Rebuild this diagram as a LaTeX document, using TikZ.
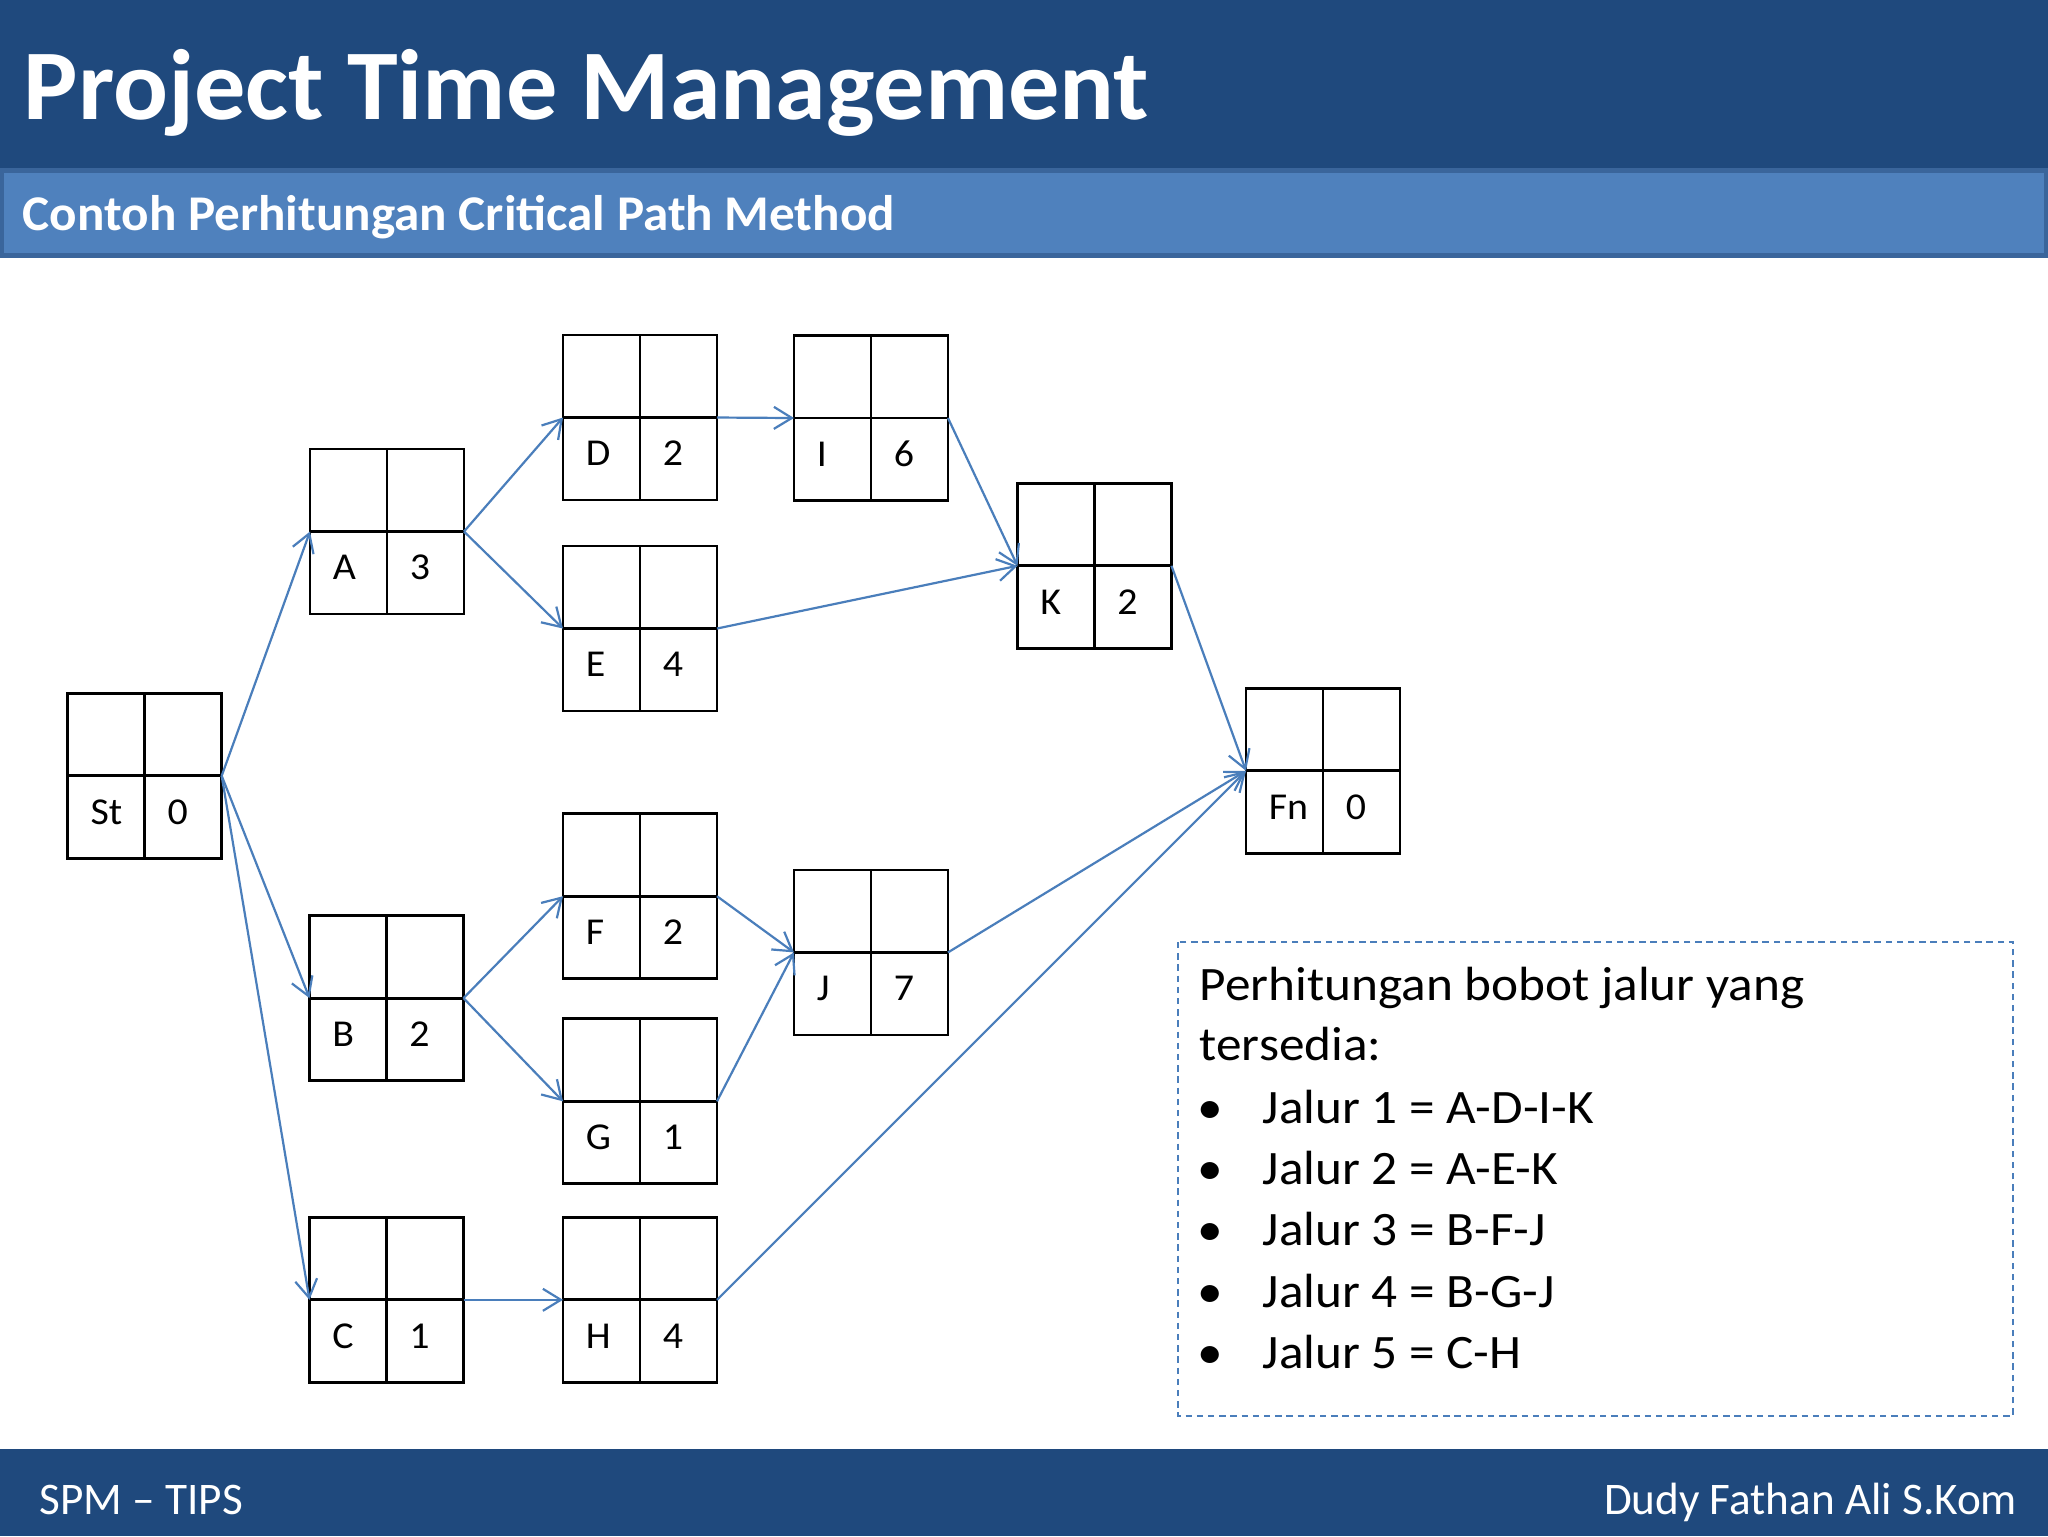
\documentclass[tikz,border=0pt]{standalone}
\usepackage{fontspec}
\setmainfont{Carlito}
\newfontfamily\titlefont{Carlito}[FakeStretch=1.023]
\newfontfamily\bodyfont{Carlito}[FakeStretch=1.068]
\newfontfamily\lblfont{Carlito}[FakeStretch=1.05]
\usetikzlibrary{arrows.meta,calc}
\definecolor{hdark}{HTML}{1F497D}
\definecolor{hlight}{HTML}{4F81BD}
\definecolor{hedge}{HTML}{3A659B}
\definecolor{arrblue}{HTML}{4A7EBB}
\tikzset{
  cpm/.style={draw=black,line width=0.7pt,minimum width=38.5pt,minimum height=41.25pt,inner sep=0pt,outer sep=0pt},
  boxline/.style={draw=black,line width=0.7pt},
  lbl/.style={font=\lblfont\fontsize{9.5}{11}\selectfont,inner sep=0pt,anchor=west,yshift=1.3pt},
  arr/.style={draw=arrblue,line width=0.55pt,-{Straight Barb[length=4.5pt,width=5.5pt]}},
  bodytxt/.style={font=\bodyfont\fontsize{12}{14}\selectfont,anchor=base west,inner sep=0pt},
  foottxt/.style={font=\fontsize{11.3}{13}\selectfont,text=white,inner sep=0pt},
}
\newcommand\cpmbox[5]{%
  \node[cpm,anchor=north west] (#1) at (#2,#3) {};
  \draw[boxline] (#1.north) -- (#1.south) (#1.west) -- (#1.east);
  \node[lbl] (#1-name) at ([xshift=5.5pt]$(#1.south west)!0.5!(#1.west)$) {#4};
  \node[lbl] (#1-dur) at ([xshift=5.5pt]$(#1.south)!0.5!(#1.center)$) {#5};
}
\begin{document}
\begin{tikzpicture}[x=0.25pt,y=-0.25pt]
\useasboundingbox (0,0) rectangle (2048,1536);
\fill[white] (0,0) rectangle (2048,1536);
% header
\fill[hdark] (0,0) rectangle (2048,168);
\fill[hedge] (0,168) rectangle (2048,258);
\fill[hlight] (4,173) rectangle (2044,253);
\node[anchor=base west,inner sep=0pt,text=white,font=\titlefont\fontsize{25}{30}\selectfont\bfseries] (title) at (23,119) {Project Time Management};
\node[anchor=base west,inner sep=0pt,text=white,font=\titlefont\fontsize{12.5}{15}\selectfont\bfseries] (subtitle) at (22,230) {Contoh Perhitungan Critical Path Method};
% footer
\fill[hdark] (0,1449) rectangle (2048,1536);
\node[foottxt,anchor=base west] (footl) at (39,1514) {SPM -- TIPS};
\node[foottxt,anchor=base east] (footr) at (2018,1514) {Dudy Fathan Ali S.Kom};
% boxes
\cpmbox{St}{67.7}{693.3}{St}{0}
\cpmbox{A}{310}{449}{A}{3}
\cpmbox{D}{563}{335}{D}{2}
\cpmbox{E}{563}{546}{E}{4}
\cpmbox{I}{794}{335.5}{I}{6}
\cpmbox{K}{1017.5}{483.3}{K}{2}
\cpmbox{Fn}{1246}{688.3}{Fn}{0}
\cpmbox{B}{309.5}{915.6}{B}{2}
\cpmbox{F}{563}{813.7}{F}{2}
\cpmbox{G}{563}{1018.8}{G}{1}
\cpmbox{J}{794}{869.9}{J}{7}
\cpmbox{C}{309.5}{1217.3}{C}{1}
\cpmbox{H}{563}{1217.3}{H}{4}
% connectors
\draw[arr] (St.east) -- (A.west);
\draw[arr] (St.east) -- (B.west);
\draw[arr] (St.east) -- (C.west);
\draw[arr] (A.east) -- (D.west);
\draw[arr] (A.east) -- (E.west);
\draw[arr] (D.east) -- (I.west);
\draw[arr] (I.east) -- (K.west);
\draw[arr] (E.east) -- (K.west);
\draw[arr] (K.east) -- (Fn.west);
\draw[arr] (B.east) -- (F.west);
\draw[arr] (B.east) -- (G.west);
\draw[arr] (F.east) -- (J.west);
\draw[arr] (G.east) -- (J.west);
\draw[arr] (J.east) -- (Fn.west);
\draw[arr] (C.east) -- (H.west);
\draw[arr] (H.east) -- (Fn.west);
% text box
\draw[arrblue,line width=0.4pt,dash pattern=on 1.6pt off 1.2pt] (1178,942) rectangle (2013,1416);
\node[bodytxt] (t1) at (1199,1000) {Perhitungan bobot jalur yang};
\node[bodytxt] (t2) at (1199,1060) {tersedia:};
\foreach \y/\txt [count=\i] in {1123/{Jalur 1 = A-D-I-K},1184/{Jalur 2 = A-E-K},1245/{Jalur 3 = B-F-J},1307/{Jalur 4 = B-G-J},1368/{Jalur 5 = C-H}}{
  \node[bodytxt] (b\i) at (1197,\y) {\textbullet};
  \node[bodytxt] (j\i) at (1262,\y) {\txt};
}
\end{tikzpicture}
\end{document}
